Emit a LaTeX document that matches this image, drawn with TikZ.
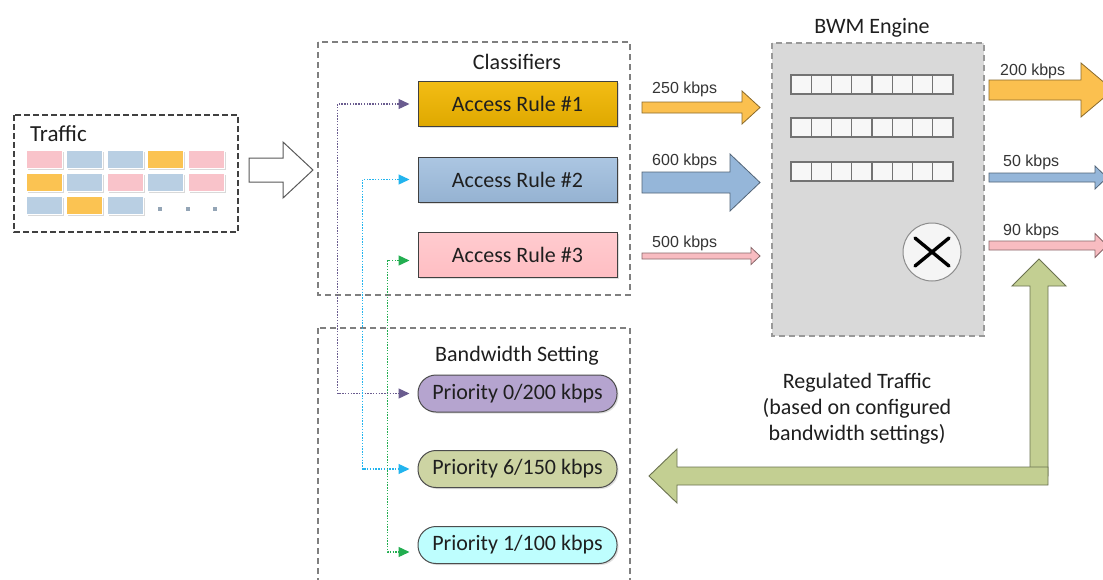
\documentclass[tikz,border=0pt]{standalone}
\usepackage{fontspec}
\setmainfont{Carlito}
\newfontfamily\ratefont{Liberation Sans}
\usetikzlibrary{arrows.meta,calc,shadows}

\definecolor{inkC}{HTML}{1F1F1F}
\definecolor{dashC}{HTML}{7F7F7F}
\definecolor{engineC}{HTML}{D9D9D9}
\definecolor{orgF}{HTML}{FBC04F}
\definecolor{bluF}{HTML}{95B6D9}
\definecolor{pnkF}{HTML}{F8BCC1}
\definecolor{grnF}{HTML}{C3CF92}
\definecolor{pktP}{HTML}{F9C3CA}
\definecolor{pktB}{HTML}{B9CFE3}
\definecolor{pktO}{HTML}{FBC352}
\definecolor{ruleA}{HTML}{F2B700}
\definecolor{ruleB}{HTML}{9DBCDD}
\definecolor{ruleC}{HTML}{FFBEC3}
\definecolor{prioA}{HTML}{B5A4CF}
\definecolor{prioB}{HTML}{CDD4A3}
\definecolor{prioC}{HTML}{BEFEFE}
\definecolor{purpL}{HTML}{6A5C8F}
\definecolor{cyanL}{HTML}{22B4EE}
\definecolor{greenL}{HTML}{22AE50}

% block arrow pointing right: fill, x start, x head base, x tip, y centre, shaft half, head half
\newcommand\rarrow[7]{%
  \filldraw[fill=#1, draw=#1!55!black, line width=0.8pt]
    (#2,#5-#6) -- (#3,#5-#6) -- (#3,#5-#7) -- (#4,#5) -- (#3,#5+#7)
    -- (#3,#5+#6) -- (#2,#5+#6) -- cycle;}

\begin{document}
\begin{tikzpicture}[x=1pt,y=-1pt,
  every node/.style={text=inkC},
  txt/.style={font=\fontsize{22}{26}\selectfont},
  ratelbl/.style={font=\ratefont\fontsize{16}{18}\selectfont, anchor=west, inner sep=0pt, text=inkC!90},
  grpbox/.style={draw=dashC, line width=1.1pt, dash pattern=on 6pt off 4pt},
  rulebox/.style={draw=black!75, line width=1pt, minimum width=199pt, minimum height=45pt,
    txt, drop shadow={shadow xshift=1.5pt, shadow yshift=-1.5pt, opacity=0.25}},
  priobox/.style={draw=black!70, line width=1pt, rounded corners=18pt, minimum width=199pt,
    minimum height=37pt, txt, drop shadow={shadow xshift=1.5pt, shadow yshift=-1.5pt, opacity=0.25}},
  link/.style={line width=1.3pt, dash pattern=on 1.4pt off 1.4pt,
    {Triangle[length=11pt,width=10pt]}-{Triangle[length=11pt,width=10pt]},
    shorten <=8pt, shorten >=8pt},
  packet/.style={draw=white, line width=0.6pt},
  cell/.style={draw=black!55, line width=1.4pt, fill=black!3}]

\clip (0,0) rectangle (1103,579);
\fill[white] (0,0) rectangle (1103,579);

% ---------- incoming traffic ----------
\draw[draw=black!75, line width=1.3pt, dash pattern=on 6pt off 3pt] (14,115) rectangle (238,232);
\node[txt, anchor=west, inner sep=0pt, font=\fontsize{23}{26}\selectfont] (trafficlbl) at (30,134) {Traffic};
\foreach \c/\r/\col in {0/0/pktP,1/0/pktB,2/0/pktB,3/0/pktO,4/0/pktP,
                        0/1/pktO,1/1/pktB,2/1/pktP,3/1/pktB,4/1/pktP,
                        0/2/pktB,1/2/pktO,2/2/pktB}{
  \fill[black!15] (27.5+\c*40.5,151.5+\r*23) rectangle ++(36,18);
  \filldraw[packet, fill=\col] (26+\c*40.5,150+\r*23) rectangle ++(36,18);
}
\foreach \x in {160,188,215} \fill[pktB!80!black] (\x-2.2,209-2.2) rectangle ++(4.4,4.4);

% hollow arrow into the classifiers
\draw[draw=black!65, line width=1pt, fill=white]
  (249,158) -- (283,158) -- (283,142) -- (313,170) -- (283,198) -- (283,182) -- (249,182) -- cycle;

% ---------- classifiers ----------
\draw[grpbox] (318,42) rectangle (630,295);
\node[txt] (classlbl) at (517,62) {Classifiers};
\node[rulebox, top color=ruleA!92!white, bottom color=ruleA!92!black] (r1) at (517.5,104) {Access Rule \#1};
\node[rulebox, top color=ruleB!85!white, bottom color=ruleB!95!black] (r2) at (517.5,179.5) {Access Rule \#2};
\node[rulebox, top color=ruleC!80!white, bottom color=ruleC] (r3) at (517.5,254.5) {Access Rule \#3};

% ---------- bandwidth settings ----------
\draw[grpbox] (318,328) rectangle (630,600);
\node[txt] (bwlbl) at (517,356) {Bandwidth Setting};
\node[priobox, fill=prioA] (p0) at (517.5,393.5) {Priority 0/200 kbps};
\node[priobox, fill=prioB] (p6) at (517.5,469) {Priority 6/150 kbps};
\node[priobox, fill=prioC] (p1) at (517.5,545) {Priority 1/100 kbps};

% rule-to-priority bindings
\draw[link, draw=purpL] (r1.west) -- ++(-80,0) |- (p0.west);
\draw[link, draw=cyanL] (r2.west) -- ++(-55,0) |- (p6.west);
\draw[link, draw=greenL] ($(r3.west)+(0,6)$) -- ++(-30,0) |- ($(p1.west)+(0,7)$);

% ---------- BWM engine ----------
\node[txt] (bwmlbl) at (872,28) {BWM Engine};
\filldraw[fill=engineC, draw=black!40, line width=1.1pt, dash pattern=on 6pt off 4pt] (772,43) rectangle (984,336);
\foreach \r in {75,118,162}
  \foreach \i in {0,...,7}
    \draw[cell] (791+\i*20.25,\r) rectangle ++(20.25,19);
\node[circle, draw=black!45, line width=1pt, fill=black!4, minimum size=58pt] (mix) at (932,252) {};
\draw[line width=3.4pt, line cap=round, black] ($(mix)+(-17,-14)$) -- ($(mix)+(17,14)$);
\draw[line width=3.4pt, line cap=round, black] ($(mix)+(-17,14)$) -- ($(mix)+(17,-14)$);

% input rates
\rarrow{orgF}{642}{742}{760}{107.5}{5.5}{16.5}
\rarrow{bluF}{642}{730}{760}{182.5}{10.5}{28.5}
\rarrow{pnkF}{642}{751}{760}{256}{3}{8.5}
\node[ratelbl] (in1) at (652,89) {250 kbps};
\node[ratelbl] (in2) at (652,161) {600 kbps};
\node[ratelbl] (in3) at (652,243) {500 kbps};

% output rates
\rarrow{orgF}{989}{1081}{1113}{90}{10}{27}
\rarrow{bluF}{989}{1095}{1107}{177.5}{4.5}{11.5}
\rarrow{pnkF}{989}{1095}{1107}{245.5}{4.5}{12}
\node[ratelbl] (out1) at (1000,71) {200 kbps};
\node[ratelbl] (out2) at (1003,162) {50 kbps};
\node[ratelbl] (out3) at (1003,231) {90 kbps};

% regulated traffic feedback
\filldraw[fill=grnF, draw=grnF!55!black, line width=0.9pt]
  (1030,476) -- (1030,286) -- (1012,286) -- (1039,259) -- (1066,286) -- (1048,286) -- (1048,476) -- cycle;
\filldraw[fill=grnF, draw=grnF!55!black, line width=0.9pt]
  (1048,467) -- (677,467) -- (677,449) -- (649,476) -- (677,503) -- (677,485) -- (1048,485) -- cycle;
\node[txt, align=center] (reglbl) at (857,409) {Regulated Traffic\\(based on configured\\bandwidth settings)};

\end{tikzpicture}
\end{document}
